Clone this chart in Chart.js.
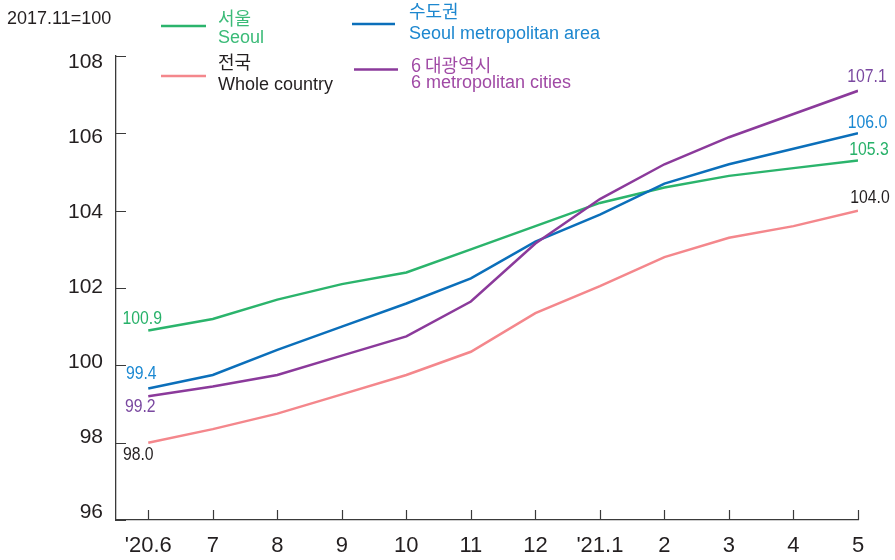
<!DOCTYPE html>
<html><head><meta charset="utf-8">
<script src="https://cdn.jsdelivr.net/npm/chart.js@4.4.0/dist/chart.umd.min.js"></script>
<style>html,body{margin:0;padding:0;background:#fff;}#wrap{width:895px;height:560px;position:relative;}</style>
</head><body><div id="wrap"><canvas id="c" width="895" height="560"></canvas></div>
<script>
// ---- data ----
const months = ["'20.6", "7", "8", "9", "10", "11", "12", "'21.1", "2", "3", "4", "5"];
const seoul = [100.9, 101.2, 101.7, 102.1, 102.4, 103.0, 103.6, 104.2, 104.6, 104.9, 105.1, 105.3];
const metroArea = [99.4, 99.75, 100.4, 101.0, 101.6, 102.25, 103.2, 103.9, 104.7, 105.2, 105.6, 106.0];
const sixCities = [99.2, 99.45, 99.75, 100.25, 100.75, 101.65, 103.15, 104.3, 105.2, 105.9, 106.5, 107.1];
const wholeCountry = [98.0, 98.35, 98.75, 99.25, 99.75, 100.35, 101.35, 102.05, 102.8, 103.3, 103.6, 104.0];
const yTicks = [96, 98, 100, 102, 104, 106, 108];
const unitNote = '2017.11=100';
const seriesKo = ['서울', '수도권', '전국', '6 대광역시'];
const seriesEn = ['Seoul', 'Seoul metropolitan area', 'Whole country', '6 metropolitan cities'];

// ---- styles ----
const TEXT = '#231f20';
const LATIN = '"Liberation Sans", Arial, Helvetica, sans-serif';
const CJK = '"Noto Sans CJK KR", "Noto Sans", sans-serif';
const lineColors = ['#2bb46c', '#0b6fba', '#f4878c', '#8b3a9b'];
const legendTextColors = ['#3bbb78', '#1d87cf', TEXT, '#a04aa5'];
const labelColors = ['#27b169', '#1a88d2', TEXT, '#7a48a0'];
// label offsets (first point, last point) relative to the point pixel
const labelOffsets = [
  [[-6, -12], [11, -11]],
  [[-7, -15], [9.5, -11]],
  [[-10, 12], [12, -13]],
  [[-8, 10.5], [9, -14]]
];
// legend layout: [lineX1, lineX2, lineY, textX, koCenterY, enBaseline]
const legendLayout = [
  [161, 206, 26, 218, 18.5, 43.3],
  [352, 395, 24, 409, 11, 39.3],
  [161, 206, 76, 218, 62, 90],
  [354, 398, 69.5, 411, 65, 88.3]
];

const seriesValues = [seoul, metroArea, wholeCountry, sixCities];
const toPts = arr => arr.map((v, i) => ({x: i, y: v}));

const inwardTicks = {
  id: 'inwardTicks',
  beforeDatasetsDraw(chart) {
    const {ctx, chartArea: a, scales: {x, y}} = chart;
    ctx.save();
    ctx.strokeStyle = '#3a3a3a';
    ctx.lineWidth = 1.2;
    ctx.beginPath();
    x.ticks.forEach(t => {
      const px = Math.round(x.getPixelForValue(t.value)) + 0.5;
      ctx.moveTo(px, a.bottom); ctx.lineTo(px, a.bottom - 10);
    });
    y.ticks.forEach(t => {
      const py = Math.round(y.getPixelForValue(t.value)) + 0.5;
      ctx.moveTo(a.left, py); ctx.lineTo(a.left + 10, py);
    });
    ctx.stroke();
    ctx.restore();
  }
};

const endLabels = {
  id: 'endLabels',
  afterDatasetsDraw(chart) {
    const {ctx} = chart;
    chart.data.datasets.forEach((ds, di) => {
      const meta = chart.getDatasetMeta(di);
      const n = meta.data.length;
      [0, n - 1].forEach((idx, k) => {
        const p = meta.data[idx];
        const off = labelOffsets[ds.seriesIndex][k];
        const txt = ds.data[idx].y.toFixed(1);
        ctx.save();
        ctx.translate(p.x + off[0], p.y + off[1]);
        ctx.scale(0.83, 1);
        ctx.font = '19px ' + LATIN;
        ctx.fillStyle = labelColors[ds.seriesIndex];
        ctx.textAlign = 'center';
        ctx.textBaseline = 'middle';
        ctx.fillText(txt, 0, 0);
        ctx.restore();
      });
    });
  }
};

const customLegend = {
  id: 'customLegend',
  afterDraw(chart) {
    const {ctx} = chart;
    ctx.save();
    ctx.fillStyle = TEXT;
    ctx.font = '18px ' + LATIN;
    ctx.textBaseline = 'alphabetic';
    ctx.textAlign = 'left';
    ctx.fillText(unitNote, 7, 23.5);
    legendLayout.forEach((L, i) => {
      ctx.strokeStyle = lineColors[i];
      ctx.lineWidth = 2.6;
      ctx.beginPath();
      ctx.moveTo(L[0], L[2]); ctx.lineTo(L[1], L[2]);
      ctx.stroke();
      ctx.fillStyle = legendTextColors[i];
      ctx.font = '18px ' + CJK;
      ctx.textBaseline = 'middle';
      ctx.fillText(seriesKo[i], L[3], L[4]);
      ctx.font = '18px ' + LATIN;
      ctx.textBaseline = 'alphabetic';
      ctx.fillText(seriesEn[i], L[3], L[5]);
    });
    ctx.restore();
  }
};

const mk = (si, order) => ({
  label: seriesEn[si],
  seriesIndex: si,
  data: toPts(seriesValues[si]),
  borderColor: lineColors[si],
  backgroundColor: lineColors[si],
  borderWidth: 2.5,
  pointRadius: 0,
  tension: 0,
  fill: false,
  order: order,
  yAxisID: 'y'
});

new Chart(document.getElementById('c'), {
  type: 'line',
  data: {
    datasets: [mk(2, 4), mk(0, 3), mk(1, 2), mk(3, 1)]
  },
  options: {
    responsive: false,
    animation: false,
    devicePixelRatio: 1,
    layout: {padding: {top: 56, right: 37, bottom: 0, left: 0}},
    plugins: {legend: {display: false}, tooltip: {enabled: false}, title: {display: false}},
    scales: {
      x: {
        type: 'linear',
        min: -0.5,
        max: months.length - 1,
        afterBuildTicks: s => { s.ticks = months.map((m, i) => ({value: i})); },
        afterFit: s => { s.height = 40; },
        grid: {display: false, drawTicks: false},
        border: {display: true, color: '#3a3a3a', width: 1.3},
        ticks: {
          autoSkip: false, maxRotation: 0, padding: 13,
          color: TEXT, font: {family: LATIN, size: 22},
          callback: v => months[v]
        }
      },
      y: {
        type: 'linear',
        position: 'left',
        weight: 0,
        min: 96, max: 108,
        afterBuildTicks: s => { s.ticks = yTicks.map(v => ({value: v})); },
        afterFit: s => { s.width = 0; },
        grid: {display: false, drawTicks: false},
        border: {display: true, color: '#3a3a3a', width: 1.3},
        ticks: {display: false}
      },
      yLab: {
        type: 'linear',
        position: 'left',
        weight: 1,
        min: 95.8, max: 108.17,
        afterBuildTicks: s => { s.ticks = yTicks.map(v => ({value: v})); },
        afterFit: s => { s.width = 116; },
        grid: {display: false, drawTicks: false},
        border: {display: false},
        ticks: {padding: 13, color: TEXT, font: {family: LATIN, size: 21}}
      }
    }
  },
  plugins: [inwardTicks, endLabels, customLegend]
});
</script>
</body></html>
